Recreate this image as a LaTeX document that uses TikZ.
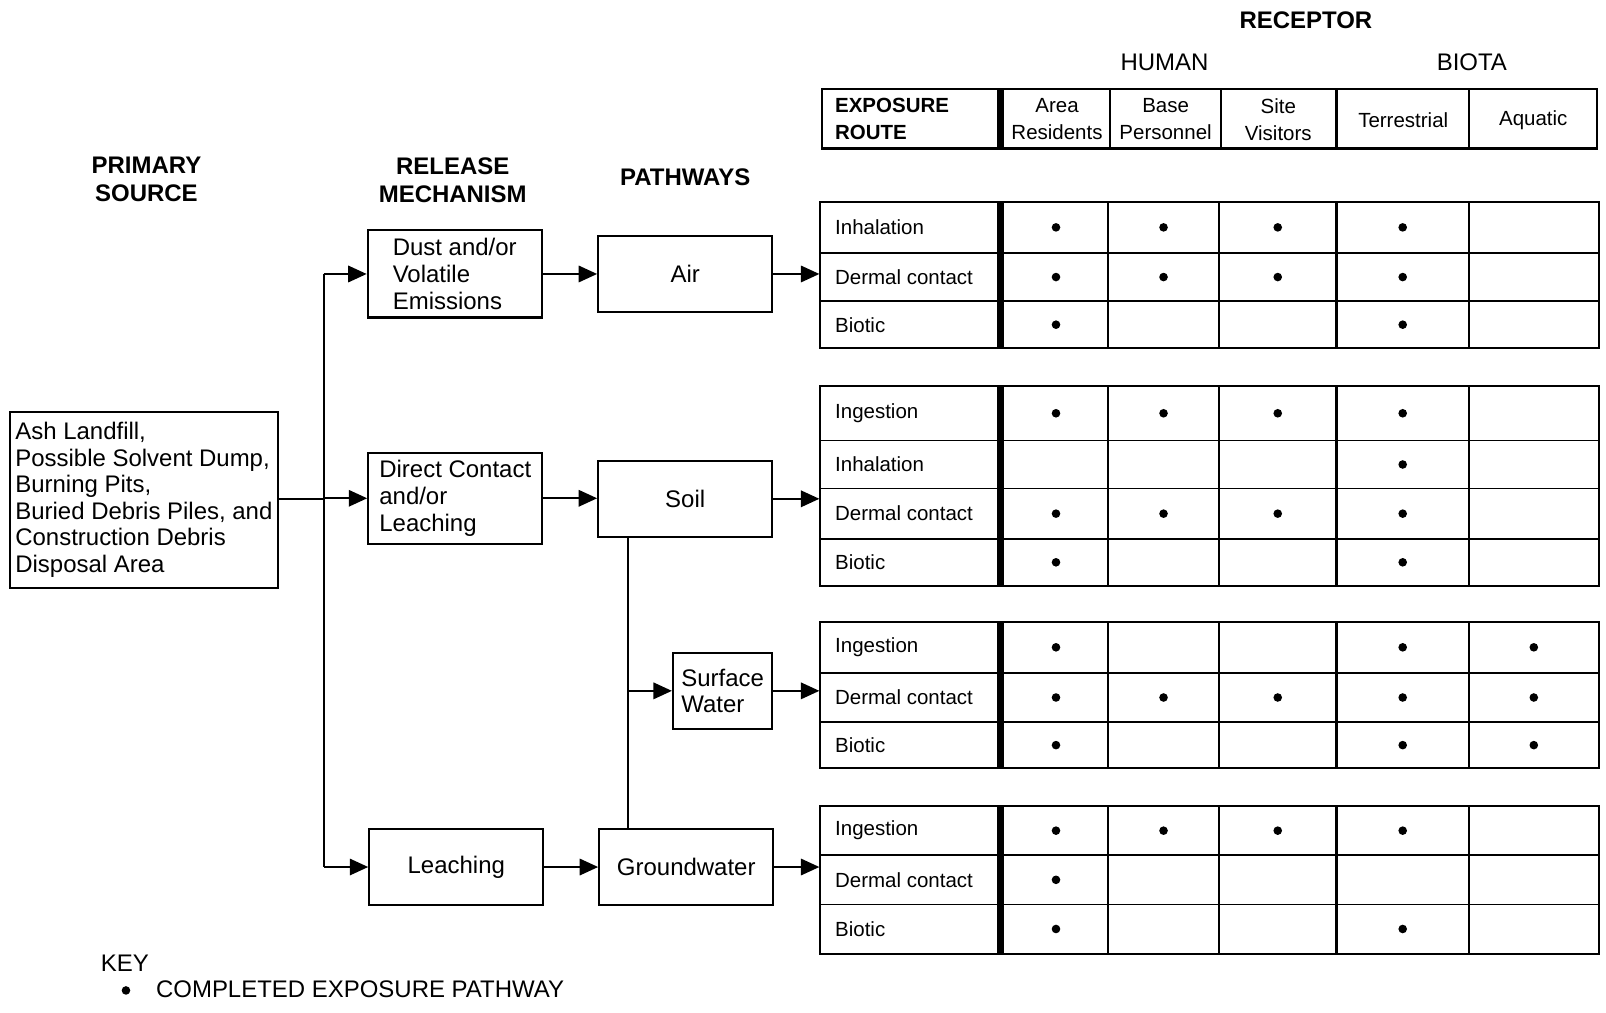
\documentclass[tikz,border=0pt]{standalone}
\usepackage{fontspec}
\setmainfont{Liberation Sans}
\usetikzlibrary{arrows.meta,positioning}

\newcommand{\diagfont}{\fontsize{11.7}{13}\selectfont}
\newcommand{\tabfont}{\fontsize{10}{13}\selectfont}

\begin{document}
\begin{tikzpicture}[x=0.5pt, y=-0.5pt,
  stage/.style={draw, line width=1pt, font=\diagfont, align=left, inner sep=0pt, minimum width=85pt, minimum height=37pt},
  heading/.style={font=\diagfont\bfseries, align=center},
  flow/.style={line width=1pt, -{Triangle[length=9pt,width=8pt]}},
  link/.style={line width=1pt},
  grp/.style={draw, line width=1pt, minimum width=380pt, inner sep=0pt},
  cellrule/.style={line width=0.8pt},
  biotarule/.style={line width=1.6pt},
  routebar/.style={line width=3.5pt},
  routelbl/.style={font=\tabfont, anchor=west, inner sep=0pt},
  colhead/.style={font=\tabfont, align=center, inner sep=0pt}]
\useasboundingbox (0,0) rectangle (1568,989);

% column centres of the receptor table
\def\colA{1031}
\def\colB{1136}
\def\colS{1247.5}
\def\colT{1369.5}
\def\colQ{1497.5}

% titles
\node[heading] (ttlsrc) at (143,175) {PRIMARY\\[1pt]SOURCE};
\node[heading] (ttlrel) at (442,176) {RELEASE\\[1pt]MECHANISM};
\node[heading] (ttlpath) at (669,173) {PATHWAYS};
\node[heading] (ttlrec) at (1275,20) {RECEPTOR};
\node[font=\diagfont] (ttlhum) at (1137,61) {HUMAN};
\node[font=\diagfont] (ttlbio) at (1437,61) {BIOTA};

% source, release mechanisms, pathways
\node[stage, minimum width=130.5pt, minimum height=86pt] (src) at (140.5,488)
  {Ash Landfill,\\Possible Solvent Dump,\\Burning Pits,\\Buried Debris Piles, and\\Construction Debris\\Disposal Area};
\node[stage, minimum height=42.5pt] (dust) at (444,267.5) {Dust and/or\\Volatile\\Emissions};
\node[stage, minimum height=44.5pt] (direct) at (444.5,486.5) {Direct Contact\\and/or\\Leaching};
\node[stage] (leach) at (445.5,846.5) {Leaching};
\node[stage] (air) at (669,267.5) {Air};
\node[stage] (soil) at (669,487) {Soil};
\node[stage, minimum width=48.5pt] (sw) at (705.5,674.5) {Surface\\Water};
\node[stage] (gw) at (670,846.5) {Groundwater};

\coordinate (trunk) at (316,487);
\coordinate (drop) at (613,0);
\draw[link] (src.east |- trunk) -- (trunk);
\draw[link] (trunk |- dust.west) -- (trunk |- leach.west);
\draw[flow] (trunk |- dust.west) -- (dust.west);
\draw[flow] (trunk |- direct.west) -- (direct.west);
\draw[flow] (trunk |- leach.west) -- (leach.west);
\draw[flow] (dust.east) -- (dust.east -| air.west);
\draw[flow] (direct.east) -- (direct.east -| soil.west);
\draw[flow] (leach.east) -- (leach.east -| gw.west);
\draw[link] (drop |- soil.south) -- (drop |- gw.north);
\draw[flow] (drop |- sw.west) -- (sw.west);

% header row
\node[grp, minimum width=378pt, minimum height=29pt] (hdr) at (1181,116) {};
\draw[routebar] (977,87) -- (977,145);
\draw[biotarule] (1305,87) -- (1305,145);
\foreach \xc in {1084,1192,1434} \draw[cellrule] (\xc,87) -- (\xc,145);
\node[font=\tabfont\bfseries, align=left, anchor=west, inner sep=0pt] (hdrroute) at (815,116) {EXPOSURE\\ROUTE};
\node[colhead] (hdrarea) at (1032,116) {Area\\Residents};
\node[colhead] (hdrbase) at (1138,116) {Base\\Personnel};
\node[colhead] (hdrsite) at (1248,117) {Site\\Visitors};
\node[colhead] (hdrterr) at (1370,117) {Terrestrial};
\node[colhead] (hdraqua) at (1497,117) {Aquatic};

% exposure route groups
\node[grp, minimum height=71.5pt] (airtab) at (1181,268.5) {};
\node[grp, minimum height=97.5pt] (soiltab) at (1181,474.5) {};
\node[grp, minimum height=71.5pt] (swtab) at (1181,678.5) {};
\node[grp, minimum height=72pt] (gwtab) at (1181,859) {};

\foreach \yt/\yb in {197/340, 377/572, 607/750, 787/931} {
  \foreach \xc in {1082,1190,1434} \draw[cellrule] (\xc,\yt) -- (\xc,\yb);
  \draw[biotarule] (1305,\yt) -- (1305,\yb);
  \draw[routebar] (977,\yt) -- (977,\yb);
}
\foreach \y in {247,294, 430,477,526, 657,705, 835,883}
  \draw[cellrule] (801,\y) -- (977,\y) (977,\y) -- (1561,\y);

\draw[flow] (air.east) -- (air.east -| airtab.west);
\draw[flow] (soil.east) -- (soil.east -| soiltab.west);
\draw[flow] (sw.east) -- (sw.east -| swtab.west);
\draw[flow] (gw.east) -- (gw.east -| gwtab.west);

% row labels
\foreach \lab/\y in {Inhalation/222, Dermal contact/270.5, Biotic/317,
                     Ingestion/403.5, Inhalation/453.5, Dermal contact/501.5, Biotic/549,
                     Ingestion/632, Dermal contact/681, Biotic/727.5,
                     Ingestion/811, Dermal contact/859, Biotic/907}
  \node[routelbl] at (815,\y) {\lab};

% completed pathways
\foreach \x/\y in {\colA/222, \colB/222, \colS/222, \colT/222,
                   \colA/270.5, \colB/270.5, \colS/270.5, \colT/270.5,
                   \colA/317, \colT/317,
                   \colA/403.5, \colB/403.5, \colS/403.5, \colT/403.5,
                   \colT/453.5,
                   \colA/501.5, \colB/501.5, \colS/501.5, \colT/501.5,
                   \colA/549, \colT/549,
                   \colA/632, \colT/632, \colQ/632,
                   \colA/681, \colB/681, \colS/681, \colT/681, \colQ/681,
                   \colA/727.5, \colT/727.5, \colQ/727.5,
                   \colA/811, \colB/811, \colS/811, \colT/811,
                   \colA/859,
                   \colA/907, \colT/907}
  \fill (\x,\y) circle (2.1pt);

% key
\node[font=\diagfont, anchor=west, inner sep=0pt] (key) at (98,940) {KEY};
\fill (123,967) circle (2.1pt);
\node[font=\diagfont, anchor=west, inner sep=0pt] (keytxt) at (152,966) {COMPLETED EXPOSURE PATHWAY};
\end{tikzpicture}
\end{document}
